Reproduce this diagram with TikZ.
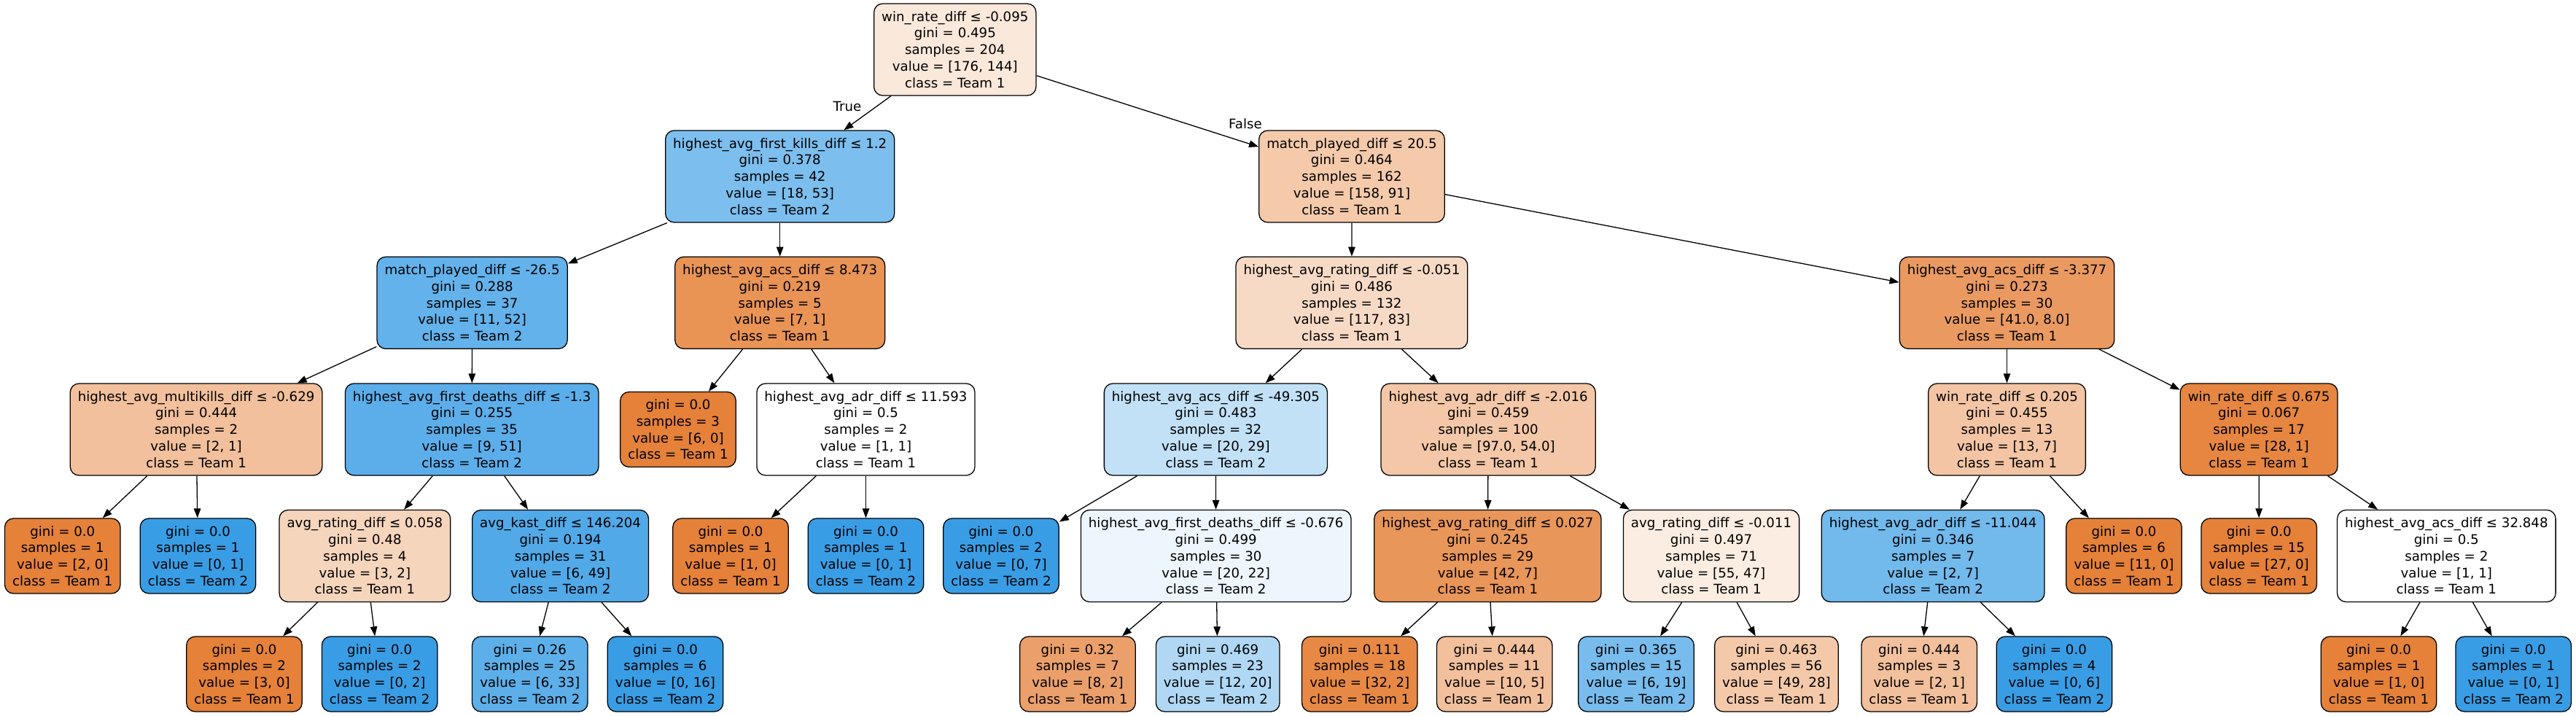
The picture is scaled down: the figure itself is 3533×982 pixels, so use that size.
\documentclass[tikz,border=0pt]{standalone}
\usepackage{fontspec}
\setmainfont{DejaVu Sans}
\usetikzlibrary{arrows.meta}
\definecolor{tone}{RGB}{229,129,57}
\definecolor{ttwo}{RGB}{57,157,229}
\newcommand{\tnI}[5]{#1\\gini = #2\\samples = #3\\value = [#4]\\class = Team #5}
\newcommand{\tnL}[4]{gini = #1\\samples = #2\\value = [#3]\\class = Team #4}
\newcommand{\tfs}{\fontsize{18.2}{22.8}\selectfont}
\tikzset{
  tn/.style={draw=black, line width=1.3pt, rounded corners=12pt, align=center,
    inner xsep=10.5pt, inner ysep=0pt, font=\tfs},
  inode/.style={tn, minimum height=126pt},
  leaf/.style={tn, minimum height=103pt},
  edgearrow/.style={-{Triangle[length=13pt,width=9.5pt]}, line width=1.3pt},
  elabel/.style={font=\tfs, inner sep=0pt}
}
\begin{document}
\begin{tikzpicture}[x=1pt,y=-1pt]
\fill[white] (0,0) rectangle (3533,982);
\useasboundingbox (0,0) rectangle (3533,982);
% level 0
\node[inode, fill=tone!18.2!white] (n0) at (1309.8,68) {\tnI{win\_rate\_diff ≤ -0.095}{0.495}{204}{176, 144}{1}};
% level 1
\node[inode, fill=ttwo!66.0!white] (n1) at (1069.7,242) {\tnI{highest\_avg\_first\_kills\_diff ≤ 1.2}{0.378}{42}{18, 53}{2}};
\node[inode, fill=tone!42.4!white] (n2) at (1854,242) {\tnI{match\_played\_diff ≤ 20.5}{0.464}{162}{158, 91}{1}};
% level 2
\node[inode, fill=ttwo!78.8!white] (n3) at (647.6,415.3) {\tnI{match\_played\_diff ≤ -26.5}{0.288}{37}{11, 52}{2}};
\node[inode, fill=tone!85.7!white] (n4) at (1069.7,415.3) {\tnI{highest\_avg\_acs\_diff ≤ 8.473}{0.219}{5}{7, 1}{1}};
\node[inode, fill=tone!29.1!white] (n5) at (1853.9,415.3) {\tnI{highest\_avg\_rating\_diff ≤ -0.051}{0.486}{132}{117, 83}{1}};
\node[inode, fill=tone!80.5!white] (n6) at (2752.5,415.3) {\tnI{highest\_avg\_acs\_diff ≤ -3.377}{0.273}{30}{41.0, 8.0}{1}};
% level 3
\node[inode, fill=tone!50!white] (n7) at (269.1,589) {\tnI{highest\_avg\_multikills\_diff ≤ -0.629}{0.444}{2}{2, 1}{1}};
\node[inode, fill=ttwo!82.4!white] (n8) at (647.2,589) {\tnI{highest\_avg\_first\_deaths\_diff ≤ -1.3}{0.255}{35}{9, 51}{2}};
\node[leaf, fill=tone] (n9) at (930,589) {\tnL{0.0}{3}{6, 0}{1}};
\node[inode, fill=white] (n10) at (1187.5,589) {\tnI{highest\_avg\_adr\_diff ≤ 11.593}{0.5}{2}{1, 1}{1}};
\node[inode, fill=ttwo!31.0!white] (n11) at (1667.4,589) {\tnI{highest\_avg\_acs\_diff ≤ -49.305}{0.483}{32}{20, 29}{2}};
\node[inode, fill=tone!44.3!white] (n12) at (2041.1,589) {\tnI{highest\_avg\_adr\_diff ≤ -2.016}{0.459}{100}{97.0, 54.0}{1}};
\node[inode, fill=tone!46.2!white] (n13) at (2752.5,589) {\tnI{win\_rate\_diff ≤ 0.205}{0.455}{13}{13, 7}{1}};
\node[inode, fill=tone!96.4!white] (n14) at (3098.1,589) {\tnI{win\_rate\_diff ≤ 0.675}{0.067}{17}{28, 1}{1}};
% level 4
\node[leaf, fill=tone] (n15) at (85.8,762.5) {\tnL{0.0}{1}{2, 0}{1}};
\node[leaf, fill=ttwo] (n16) at (271.5,762.5) {\tnL{0.0}{1}{0, 1}{2}};
\node[inode, fill=tone!33.3!white] (n17) at (500.4,762.5) {\tnI{avg\_rating\_diff ≤ 0.058}{0.48}{4}{3, 2}{1}};
\node[inode, fill=ttwo!87.8!white] (n18) at (768.6,762.5) {\tnI{avg\_kast\_diff ≤ 146.204}{0.194}{31}{6, 49}{2}};
\node[leaf, fill=tone] (n19) at (1002,762.5) {\tnL{0.0}{1}{1, 0}{1}};
\node[leaf, fill=ttwo] (n20) at (1187.5,762.5) {\tnL{0.0}{1}{0, 1}{2}};
\node[leaf, fill=ttwo] (n21) at (1373,762.5) {\tnL{0.0}{2}{0, 7}{2}};
\node[inode, fill=ttwo!9.1!white] (n22) at (1667.7,762.5) {\tnI{highest\_avg\_first\_deaths\_diff ≤ -0.676}{0.499}{30}{20, 22}{2}};
\node[inode, fill=tone!83.3!white] (n23) at (2040.4,762.5) {\tnI{highest\_avg\_rating\_diff ≤ 0.027}{0.245}{29}{42, 7}{1}};
\node[inode, fill=tone!14.5!white] (n24) at (2347,762.5) {\tnI{avg\_rating\_diff ≤ -0.011}{0.497}{71}{55, 47}{1}};
\node[inode, fill=ttwo!71.4!white] (n25) at (2651.1,762.5) {\tnI{highest\_avg\_adr\_diff ≤ -11.044}{0.346}{7}{2, 7}{2}};
\node[leaf, fill=tone] (n26) at (2913,762.5) {\tnL{0.0}{6}{11, 0}{1}};
\node[leaf, fill=tone] (n27) at (3098.2,762.5) {\tnL{0.0}{15}{27, 0}{1}};
\node[inode, fill=white] (n28) at (3355.3,762.5) {\tnI{highest\_avg\_acs\_diff ≤ 32.848}{0.5}{2}{1, 1}{1}};
% level 5
\node[leaf, fill=tone] (n29) at (335,924.5) {\tnL{0.0}{2}{3, 0}{1}};
\node[leaf, fill=ttwo] (n30) at (520.7,924.5) {\tnL{0.0}{2}{0, 2}{2}};
\node[leaf, fill=ttwo!81.8!white] (n31) at (726.8,924.5) {\tnL{0.26}{25}{6, 33}{2}};
\node[leaf, fill=ttwo] (n32) at (912.5,924.5) {\tnL{0.0}{6}{0, 16}{2}};
\node[leaf, fill=tone!75!white] (n33) at (1478,924.5) {\tnL{0.32}{7}{8, 2}{1}};
\node[leaf, fill=ttwo!40!white] (n34) at (1670.2,924.5) {\tnL{0.469}{23}{12, 20}{2}};
\node[leaf, fill=tone!93.75!white] (n35) at (1864.8,924.5) {\tnL{0.111}{18}{32, 2}{1}};
\node[leaf, fill=tone!50!white] (n36) at (2049.7,924.5) {\tnL{0.444}{11}{10, 5}{1}};
\node[leaf, fill=ttwo!68.4!white] (n37) at (2244,924.5) {\tnL{0.365}{15}{6, 19}{2}};
\node[leaf, fill=tone!42.9!white] (n38) at (2436.4,924.5) {\tnL{0.463}{56}{49, 28}{1}};
\node[leaf, fill=tone!50!white] (n39) at (2632.2,924.5) {\tnL{0.444}{3}{2, 1}{1}};
\node[leaf, fill=ttwo] (n40) at (2817.4,924.5) {\tnL{0.0}{4}{0, 6}{2}};
\node[leaf, fill=tone] (n41) at (3262.5,924.5) {\tnL{0.0}{1}{1, 0}{1}};
\node[leaf, fill=ttwo] (n42) at (3447.2,924.5) {\tnL{0.0}{1}{0, 1}{2}};
% edge labels
\node[elabel] (lt) at (1162,146) {True};
\node[elabel] (lf) at (1708,170) {False};
% edges
\foreach \a/\b in {n0/n1,n0/n2,n1/n3,n1/n4,n3/n7,n3/n8,n7/n15,n7/n16,n8/n17,n8/n18,
  n17/n29,n17/n30,n18/n31,n18/n32,n4/n9,n4/n10,n10/n19,n10/n20,n2/n5,n2/n6,
  n5/n11,n5/n12,n11/n21,n11/n22,n22/n33,n22/n34,n12/n23,n12/n24,n23/n35,n23/n36,
  n24/n37,n24/n38,n6/n13,n6/n14,n13/n25,n13/n26,n25/n39,n25/n40,n14/n27,n14/n28,
  n28/n41,n28/n42}
  \draw[edgearrow] (\a) -- (\b);
\end{tikzpicture}
\end{document}
